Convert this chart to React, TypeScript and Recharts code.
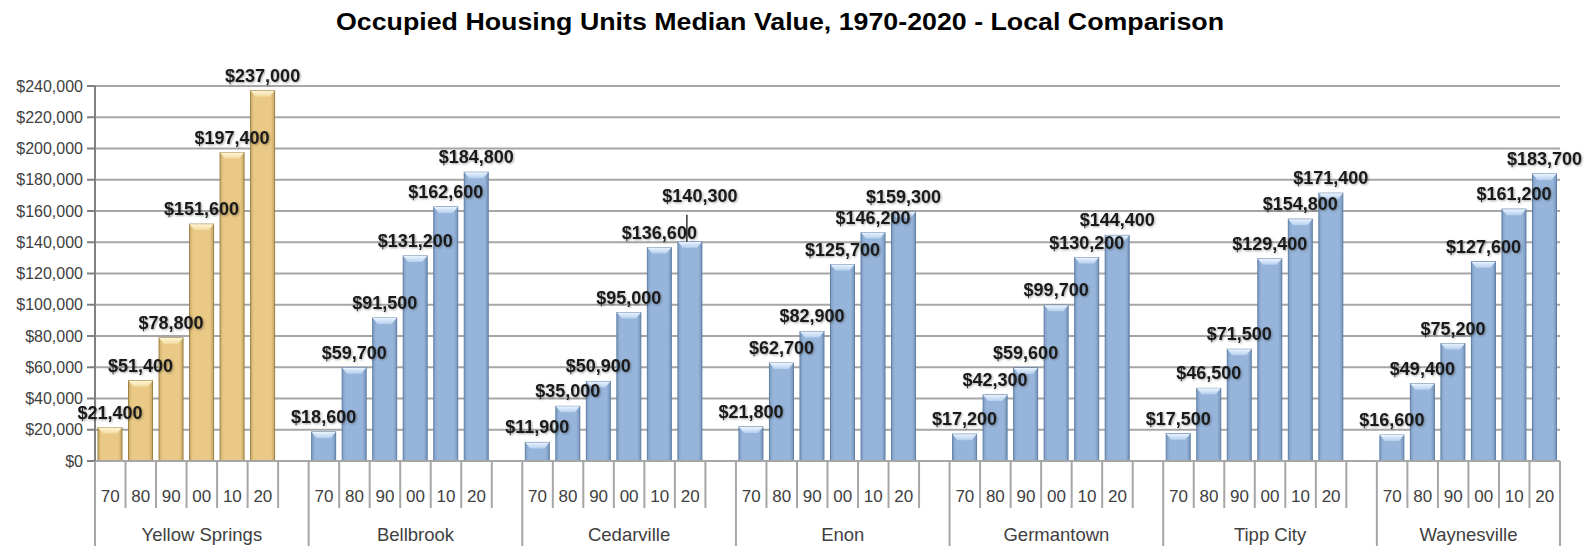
import React from 'react';
import { BarChart, Bar, XAxis, YAxis, CartesianGrid, LabelList } from 'recharts';

// median values per town, decades 1970..2020
const towns = ['Yellow Springs', 'Bellbrook', 'Cedarville', 'Enon', 'Germantown', 'Tipp City', 'Waynesville'];
const years = ['70', '80', '90', '00', '10', '20'];

const yellowSprings = [21400, 51400, 78800, 151600, 197400, 237000];
const bellbrook = [18600, 59700, 91500, 131200, 162600, 184800];
const cedarville = [11900, 35000, 50900, 95000, 136600, 140300];
const enon = [21800, 62700, 82900, 125700, 146200, 159300];
const germantown = [17200, 42300, 59600, 99700, 130200, 144400];
const tippCity = [17500, 46500, 71500, 129400, 154800, 171400];
const waynesville = [16600, 49400, 75200, 127600, 161200, 183700];

const townValues = [yellowSprings, bellbrook, cedarville, enon, germantown, tippCity, waynesville];

const yTicks = [0, 20000, 40000, 60000, 80000, 100000, 120000, 140000, 160000, 180000, 200000, 220000, 240000];

type Row = { key: string; year: string; town: string; townIdx: number; value: number | null; highlight: boolean };

// one gap category after each town except the last
const rows: Row[] = [];
towns.forEach((town, t) => {
  years.forEach((year, i) => {
    rows.push({ key: `${town}-${year}`, year, town, townIdx: t, value: townValues[t][i], highlight: t === 0 });
  });
  if (t < towns.length - 1) {
    rows.push({ key: `${town}-gap`, year: '', town, townIdx: t, value: null, highlight: t === 0 });
  }
});

const FONT = '"Liberation Sans", Arial, sans-serif';
const GRID = '#A6A6A6';
const TEXT = '#404040';

const money = (v: number) => '$' + v.toLocaleString('en-US');

const BevelBar = (props: any) => {
  const { x, y, width, height, payload } = props;
  if (!height || height <= 0) return null;
  const gold = payload.highlight;
  const id = gold ? 'gold' : 'blue';
  const bevel = Math.min(6, height);
  return (
    <g>
      <rect x={x} y={y} width={width} height={height} fill={`url(#side-${id})`} stroke={gold ? '#9C8043' : '#5E7FA6'} strokeWidth={1} />
      <polygon
        points={`${x},${y} ${x + width},${y} ${x + width - 5},${y + bevel} ${x + 5},${y + bevel}`}
        fill={`url(#top-${id})`}
      />
    </g>
  );
};

const BarLabel = (props: any) => {
  const { x, y, width, value } = props;
  if (value == null) return null;
  // label that would sit on top of its neighbour gets pulled up with a leader line
  const idx = rows.findIndex((r) => r.value === value);
  const prev = idx > 0 ? rows[idx - 1] : null;
  const crowded = !!prev && prev.value != null && prev.townIdx === rows[idx].townIdx && Math.abs(value - prev.value) < 8000;
  const lift = crowded ? 31 : 0;
  const cx = x + width / 2;
  return (
    <g>
      {crowded && <line x1={cx - 3} y1={y - lift + 4} x2={cx - 3} y2={y} stroke="#000" strokeWidth={1.2} />}
      <text
        x={crowded ? cx + 10 : cx}
        y={y - 9 - lift}
        textAnchor="middle"
        fontFamily={FONT}
        fontWeight="bold"
        fontSize={18}
        fill="#1a1a1a"
        style={{ filter: 'drop-shadow(1px 1px 1px rgba(0,0,0,0.35))' }}
      >
        {money(value)}
      </text>
    </g>
  );
};

const GroupTick = (props: any) => {
  const { x, y, payload } = props;
  const idx = payload.index ?? props.index;
  const row = rows[idx];
  if (!row) return null;
  const bw = payload.offset ? payload.offset * 2 : (1560 - 95) / rows.length;
  const left = x - bw / 2;
  const groupStart = idx === 0 || rows[idx - 1].townIdx !== row.townIdx;
  const isLast = idx === rows.length - 1;
  const groupLen = rows.filter((r) => r.townIdx === row.townIdx).length;
  return (
    <g>
      <line x1={left} y1={y} x2={left} y2={y + (groupStart ? 85 : 47)} stroke={GRID} strokeWidth={2} />
      {isLast && <line x1={x + bw / 2} y1={y} x2={x + bw / 2} y2={y + 85} stroke={GRID} strokeWidth={2} />}
      <text x={x} y={y + 41} textAnchor="middle" fontFamily={FONT} fontSize={17} fill={TEXT}>
        {row.year}
      </text>
      {groupStart && (
        <text x={left + (groupLen * bw) / 2} y={y + 80} textAnchor="middle" fontFamily={FONT} fontSize={18.5} fill={TEXT}>
          {row.town}
        </text>
      )}
    </g>
  );
};

const App: React.FC = () => {
  return (
    <div style={{ position: 'relative', width: 1595, height: 546, background: '#fff' }}>
      <style>{`body{margin:0}`}</style>
      <svg width={1595} height={40} style={{ position: 'absolute', left: 0, top: 0 }}>
        <text x={780} y={30} textAnchor="middle" fontFamily={FONT} fontWeight="bold" fontSize={23} fill="#000" textLength={888} lengthAdjust="spacingAndGlyphs">
          Occupied Housing Units Median Value, 1970-2020 - Local Comparison
        </text>
      </svg>
      <BarChart width={1595} height={546} data={rows} margin={{ top: 86, right: 35, bottom: 0, left: 0 }} barSize={24}>
        <defs>
          <linearGradient id="side-gold" x1="0" y1="0" x2="1" y2="0">
            <stop offset="0%" stopColor="#CDAE6B" />
            <stop offset="15%" stopColor="#E9C985" />
            <stop offset="85%" stopColor="#E9C985" />
            <stop offset="100%" stopColor="#C3A464" />
          </linearGradient>
          <linearGradient id="top-gold" x1="0" y1="0" x2="0" y2="1">
            <stop offset="0%" stopColor="#FFF6D8" />
            <stop offset="100%" stopColor="#F2DA9E" />
          </linearGradient>
          <linearGradient id="side-blue" x1="0" y1="0" x2="1" y2="0">
            <stop offset="0%" stopColor="#7F9DC2" />
            <stop offset="15%" stopColor="#97B5DA" />
            <stop offset="85%" stopColor="#97B5DA" />
            <stop offset="100%" stopColor="#7693B8" />
          </linearGradient>
          <linearGradient id="top-blue" x1="0" y1="0" x2="0" y2="1">
            <stop offset="0%" stopColor="#EAF4FF" />
            <stop offset="100%" stopColor="#B7D0EE" />
          </linearGradient>
        </defs>
        <CartesianGrid vertical={false} stroke={GRID} strokeWidth={2} />
        <XAxis
          dataKey="key"
          interval={0}
          height={85}
          tickSize={0}
          tickMargin={0}
          tickLine={false}
          axisLine={{ stroke: GRID, strokeWidth: 2 }}
          tick={<GroupTick />}
        />
        <YAxis
          domain={[0, 240000]}
          ticks={yTicks}
          width={95}
          tickSize={8}
          tickMargin={4}
          tickFormatter={money}
          tick={{ fontFamily: FONT, fontSize: 16, fill: TEXT }}
          tickLine={{ stroke: '#808080', strokeWidth: 2 }}
          axisLine={{ stroke: '#808080', strokeWidth: 2 }}
        />
        <Bar dataKey="value" isAnimationActive={false} shape={<BevelBar />}>
          <LabelList dataKey="value" content={<BarLabel />} />
        </Bar>
      </BarChart>
    </div>
  );
};

export default App;
